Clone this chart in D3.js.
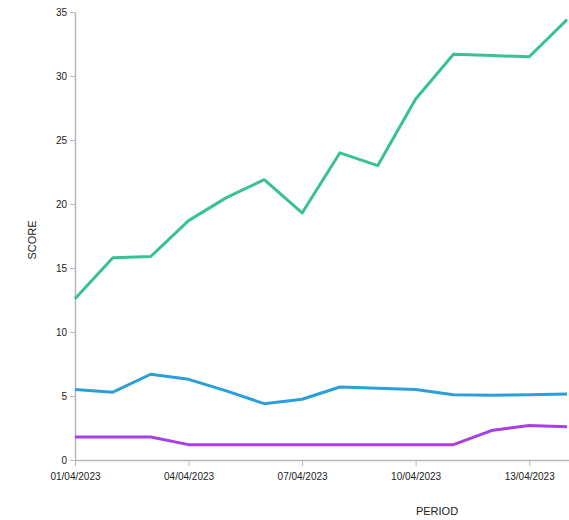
<!DOCTYPE html>
<html>
<head>
<meta charset="utf-8">
<script src="https://cdn.jsdelivr.net/npm/d3@7"></script>
<style>
  body { margin: 0; background: #fff; }
  svg { display: block; }
  text { font-family: "Liberation Sans", Arial, sans-serif; fill: #222; }
</style>
</head>
<body>
<div id="chart"></div>
<script>
// Data
const days = [1, 2, 3, 4, 5, 6, 7, 8, 9, 10, 11, 12, 13, 14];
const greenScores = [12.6, 15.8, 15.9, 18.7, 20.5, 21.9, 19.3, 24.0, 23.0, 28.2, 31.7, 31.6, 31.5, 34.4];
const blueScores = [5.5, 5.3, 6.7, 6.3, 5.4, 4.4, 4.75, 5.7, 5.6, 5.5, 5.1, 5.05, 5.1, 5.15];
const purpleScores = [1.8, 1.8, 1.8, 1.2, 1.2, 1.2, 1.2, 1.2, 1.2, 1.2, 1.2, 2.3, 2.7, 2.6];
const yTicks = [0, 5, 10, 15, 20, 25, 30, 35];
const xTickDays = [1, 4, 7, 10, 13];

const series = [
    { values: greenScores, color: "#38c196" },
    { values: blueScores, color: "#2a9fd9" },
    { values: purpleScores, color: "#a640e6" },
];

// Dimensions
const width = 569;
const height = 520;
const marginLeft = 75;
const plotTop = 12;
const plotBottom = 460;

const dateOf = d => new Date(2023, 3, d);

const x = d3.scaleTime()
    .domain([dateOf(1), dateOf(15)])
    .range([marginLeft, marginLeft + 14 * 37.85]);

const y = d3.scaleLinear()
    .domain([0, 35])
    .range([plotBottom, plotTop]);

const svg = d3.select("#chart")
    .append("svg")
    .attr("width", width)
    .attr("height", height);

// Axes
const xAxis = svg.append("g")
    .attr("transform", `translate(0, ${plotBottom})`)
    .call(d3.axisBottom(x)
        .tickValues(xTickDays.map(dateOf))
        .tickFormat(d3.timeFormat("%d/%m/%Y"))
        .tickSize(6)
        .tickSizeOuter(0));

const yAxis = svg.append("g")
    .attr("transform", `translate(${marginLeft}, 0)`)
    .call(d3.axisLeft(y)
        .tickValues(yTicks)
        .tickSize(5)
        .tickSizeOuter(0));

[xAxis, yAxis].forEach(g => {
    g.select(".domain").attr("stroke", "#b8b8bc").attr("stroke-width", 1.5);
    g.selectAll(".tick line").attr("stroke", "#b8b8bc");
    g.selectAll(".tick text")
        .attr("font-size", 10)
        .attr("font-family", "Liberation Sans, Arial, sans-serif")
        .attr("fill", "#222");
});
xAxis.selectAll(".tick text").attr("dy", "1.1em");

// Axis titles
svg.append("text")
    .attr("x", 437)
    .attr("y", 515)
    .attr("text-anchor", "middle")
    .attr("font-size", 11)
    .text("PERIOD");

svg.append("text")
    .attr("transform", "translate(36, 240) rotate(-90)")
    .attr("text-anchor", "middle")
    .attr("font-size", 11)
    .text("SCORE");

// Lines
const line = d3.line()
    .x((v, i) => x(dateOf(days[i])))
    .y(v => y(v));

svg.selectAll("path.series")
    .data(series)
    .enter()
    .append("path")
    .attr("class", "series")
    .attr("fill", "none")
    .attr("stroke", d => d.color)
    .attr("stroke-width", 3)
    .attr("stroke-linejoin", "round")
    .attr("d", d => line(d.values));
</script>
</body>
</html>
